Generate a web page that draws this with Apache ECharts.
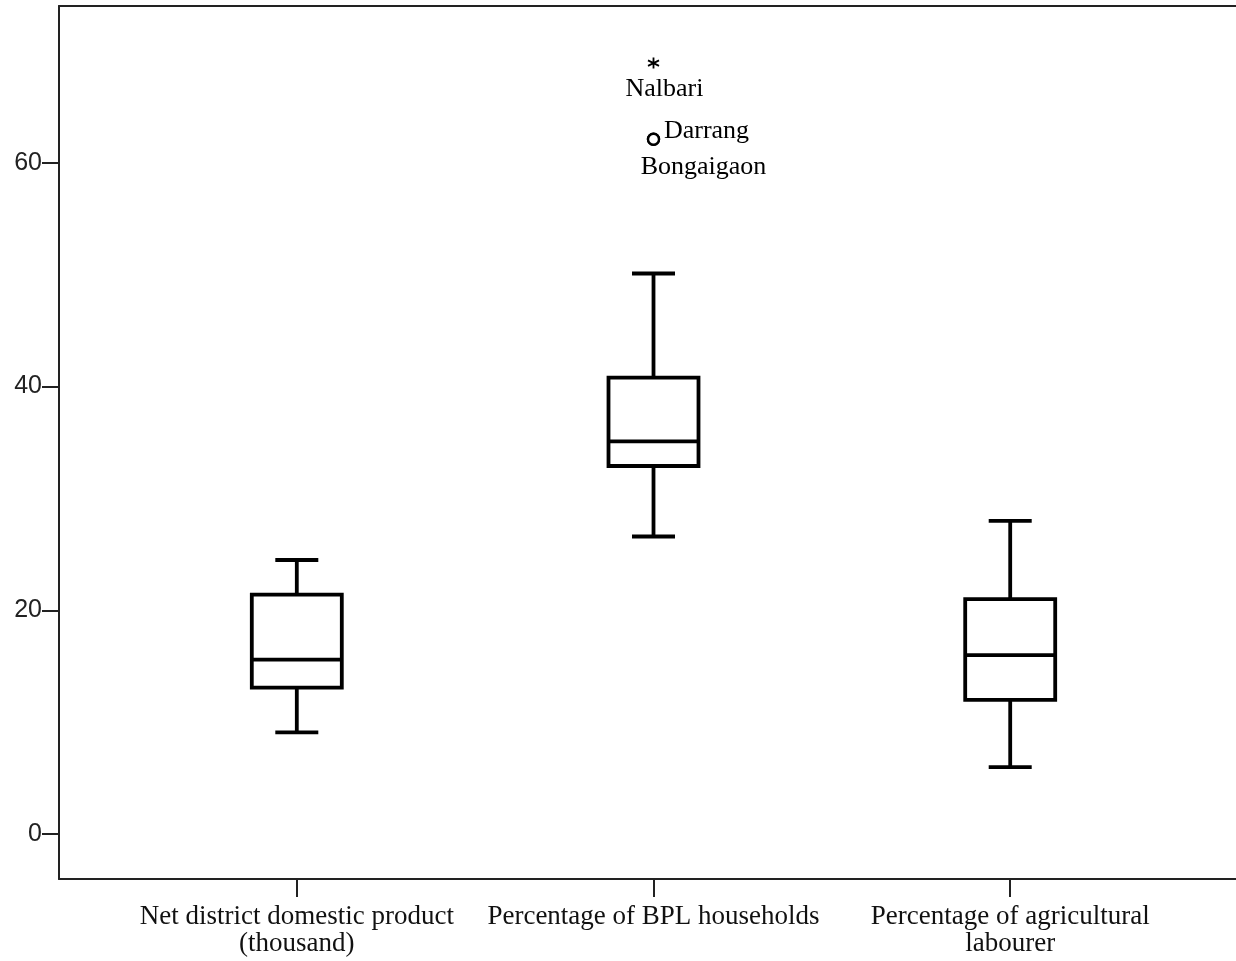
<!DOCTYPE html>
<html>
<head>
<meta charset="utf-8">
<script src="https://cdn.jsdelivr.net/npm/echarts@6/dist/echarts.min.js"></script>
<style>
html,body{margin:0;padding:0;background:#fff;}
#chart{width:1236px;height:961px;}
</style>
</head>
<body>
<div id="chart"></div>
<script>
// ---- data ----
const categories = ['Net district domestic product\n(thousand)', 'Percentage of BPL households', 'Percentage of agricultural\nlabourer'];
const whiskerLow  = [9.1, 26.6, 6.0];
const q1          = [13.1, 32.9, 12.0];
const median      = [15.6, 35.1, 16.0];
const q3          = [21.4, 40.8, 21.0];
const whiskerHigh = [24.5, 50.1, 28.0];
const yTicks = [0, 20, 40, 60];

const extremeNames = ['Nalbari'];
const extremeValues = [68.9];
const extremeCategory = [1];
const outlierNames = ['Darrang', 'Bongaigaon'];
const outlierValues = [62.1, 62.1];
const outlierCategory = [1, 1];

// ---- build ----
const boxData = categories.map((c, i) => [i + 1, whiskerLow[i], q1[i], median[i], q3[i], whiskerHigh[i]]);
const extremeData = extremeNames.map((n, i) => ({ name: n, value: [extremeCategory[i] + 1, extremeValues[i]] }));
const outlierData = outlierNames.map((n, i) => ({ name: n, value: [outlierCategory[i] + 1, outlierValues[i]] }));
const labelOffsets = { 'Nalbari': [11, 26], 'Darrang': [53, -8], 'Bongaigaon': [50, 28] };

const BOX_W = 90, CAP_W = 43, LW = 3.8;
const serif = '"Liberation Serif", "DejaVu Serif", serif';
const sans = '"Liberation Sans", "DejaVu Sans", sans-serif';
const labelStyle = { fontFamily: serif, fontSize: 26, color: '#000', textBorderWidth: 0, textShadowBlur: 0 };

const chart = echarts.init(document.getElementById('chart'), null, { renderer: 'canvas' });
chart.setOption({
  animation: false,
  backgroundColor: '#fff',
  grid: { left: 59, right: 0, top: 6, bottom: 82, containLabel: false },
  xAxis: [{
    type: 'value', min: 1 / 3, max: 3.633,
    axisLine: { show: true, onZero: false, lineStyle: { color: '#222', width: 2 } },
    splitLine: { show: false },
    axisTick: { show: true, length: 18, customValues: [1, 2, 3], lineStyle: { color: '#222', width: 2 } },
    axisLabel: {
      show: true, customValues: [1, 2, 3], margin: 24,
      formatter: v => categories[Math.round(v) - 1] || '',
      fontFamily: serif, fontSize: 27, lineHeight: 27, color: '#111', align: 'center'
    }
  }, {
    type: 'value', position: 'top', min: 1 / 3, max: 3.633,
    axisLine: { show: true, onZero: false, lineStyle: { color: '#222', width: 2 } },
    axisTick: { show: false }, axisLabel: { show: false }, splitLine: { show: false }
  }],
  yAxis: {
    type: 'value', min: -4, max: 74,
    axisLine: { show: true, onZero: false, lineStyle: { color: '#222', width: 2 } },
    splitLine: { show: false },
    axisTick: { show: true, length: 17, customValues: yTicks, lineStyle: { color: '#222', width: 2 } },
    axisLabel: { show: true, customValues: yTicks, margin: 17, fontFamily: sans, fontSize: 25, color: '#222' }
  },
  series: [{
    type: 'custom',
    data: boxData,
    encode: { x: 0, y: [1, 2, 3, 4, 5] },
    renderItem: function (params, api) {
      const x = api.value(0);
      const pLow = api.coord([x, api.value(1)]);
      const pQ1 = api.coord([x, api.value(2)]);
      const pMed = api.coord([x, api.value(3)]);
      const pQ3 = api.coord([x, api.value(4)]);
      const pHigh = api.coord([x, api.value(5)]);
      const cx = pMed[0];
      const st = { stroke: '#000', lineWidth: LW, fill: null };
      return {
        type: 'group',
        children: [
          { type: 'line', shape: { x1: cx, y1: pQ3[1], x2: cx, y2: pHigh[1] }, style: st },
          { type: 'line', shape: { x1: cx - CAP_W / 2, y1: pHigh[1], x2: cx + CAP_W / 2, y2: pHigh[1] }, style: st },
          { type: 'line', shape: { x1: cx, y1: pQ1[1], x2: cx, y2: pLow[1] }, style: st },
          { type: 'line', shape: { x1: cx - CAP_W / 2, y1: pLow[1], x2: cx + CAP_W / 2, y2: pLow[1] }, style: st },
          { type: 'rect', shape: { x: cx - BOX_W / 2, y: pQ3[1], width: BOX_W, height: pQ1[1] - pQ3[1] }, style: { stroke: '#000', lineWidth: LW, fill: '#fff' } },
          { type: 'line', shape: { x1: cx - BOX_W / 2, y1: pMed[1], x2: cx + BOX_W / 2, y2: pMed[1] }, style: st }
        ]
      };
    }
  }, {
    type: 'scatter',
    data: extremeData,
    symbol: 'path://M0,-5 L0,5 M-4.33,-2.5 L4.33,2.5 M-4.33,2.5 L4.33,-2.5',
    symbolSize: 11,
    itemStyle: { color: 'none', borderColor: '#000', borderWidth: 1.8, opacity: 1 },
    label: Object.assign({
      show: true, position: 'inside', formatter: p => p.name,
      offset: labelOffsets['Nalbari']
    }, labelStyle)
  }, {
    type: 'scatter',
    data: outlierData.map(d => ({
      name: d.name, value: d.value,
      label: { offset: labelOffsets[d.name] }
    })),
    symbol: 'circle',
    symbolSize: 11,
    itemStyle: { color: '#fff', borderColor: '#000', borderWidth: 2.4, opacity: 1 },
    label: Object.assign({
      show: true, position: 'inside', formatter: p => p.name
    }, labelStyle)
  }]
});
</script>
</body>
</html>
